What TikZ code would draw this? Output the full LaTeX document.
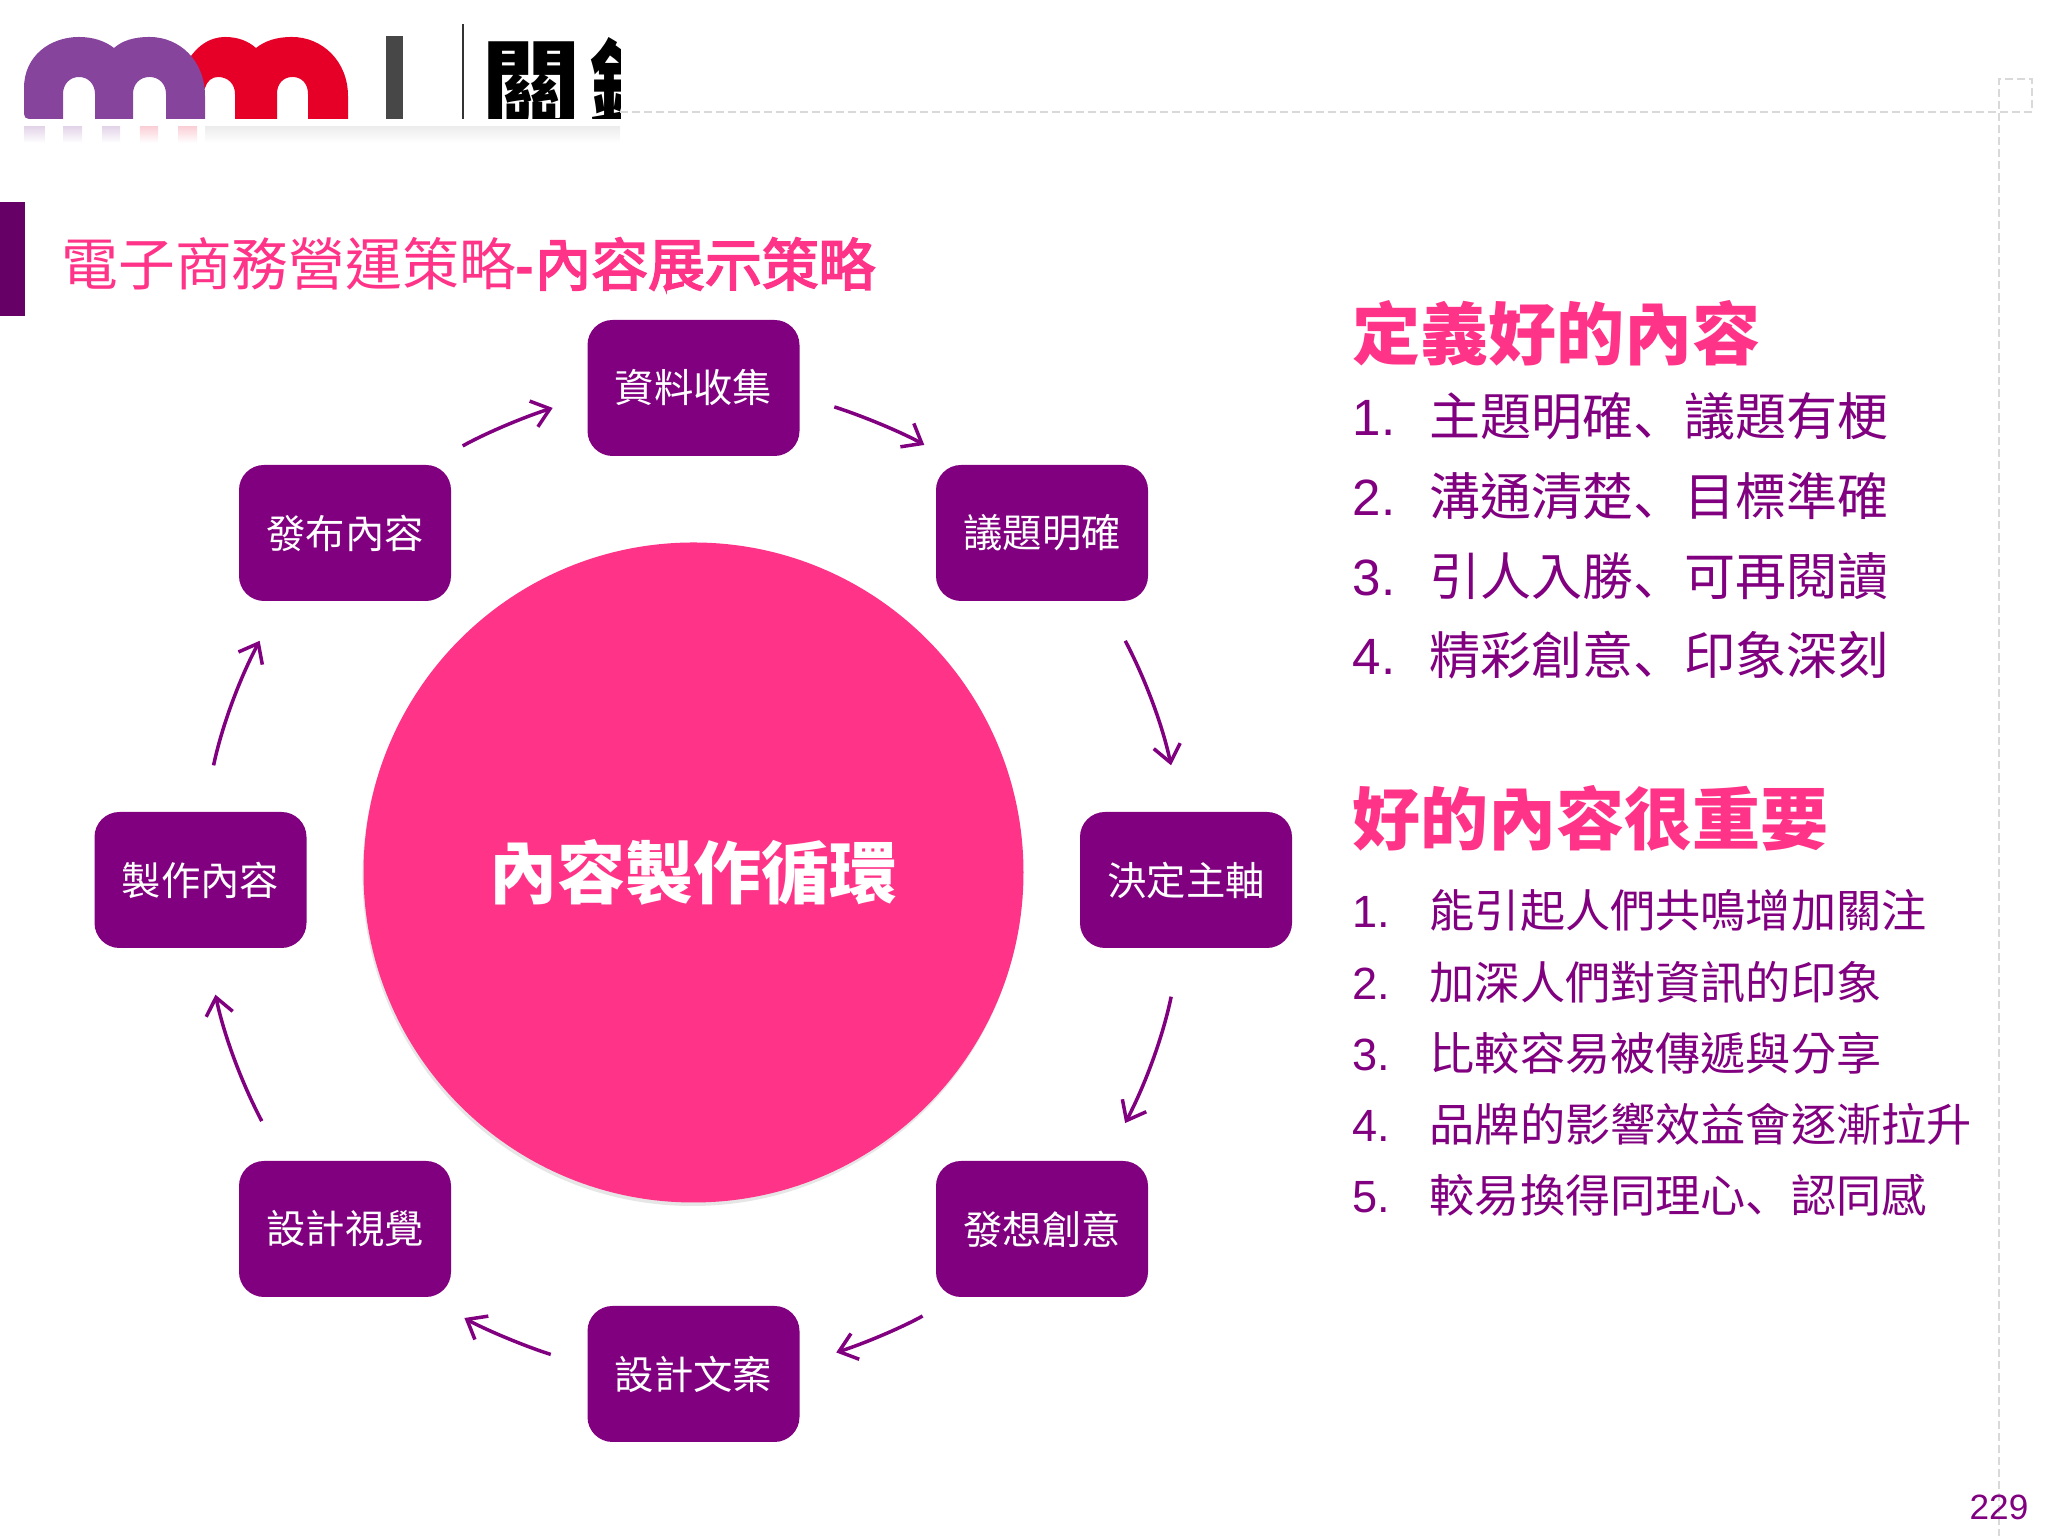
\documentclass[tikz,border=0pt]{standalone}
\usepackage{fontspec}
\setmainfont{Liberation Sans}
\newfontfamily\cjk{Noto Sans CJK TC}
\newfontfamily\cjkmark{Noto Sans CJK SC}
\newfontfamily\cjkfake[FakeBold=3]{Noto Sans CJK TC}
\usetikzlibrary{arrows.meta,shadows}

\definecolor{deeppurple}{HTML}{800080}
\definecolor{hotpink}{HTML}{FF3388}
\definecolor{barpurple}{HTML}{660066}
\definecolor{logopurple}{HTML}{86449C}
\definecolor{logored}{HTML}{E60028}
\definecolor{guidegray}{HTML}{D9D9D9}

\newcommand{\numline}[2]{\makebox[0.77cm][l]{#1}{\cjk #2}}
\newcommand{\dunmark}{{\cjkmark 、}}

\tikzset{
  stepbox/.style={fill=deeppurple, rounded corners=0.25cm, minimum width=2.12cm, minimum height=1.36cm, inner sep=0pt, text=white, font=\fontsize{11.2}{13}\selectfont\cjk},
  cyclearrow/.style={draw=deeppurple, line width=0.035cm, -{Straight Barb[length=0.17cm, width=0.27cm]}},
  headline/.style={anchor=west, inner sep=0pt, text=hotpink, font=\fontsize{19.35}{22}\selectfont\cjk\bfseries},
  bigitem/.style={anchor=west, inner sep=0pt, text=deeppurple, font=\fontsize{14.52}{17}\selectfont},
  smallitem/.style={anchor=west, inner sep=0pt, text=deeppurple, font=\fontsize{12.85}{15}\selectfont},
  guideline/.style={draw=guidegray, line width=0.025cm, dash pattern=on 0.08cm off 0.04cm}
}

\begin{document}
\begin{tikzpicture}
  \useasboundingbox (0, 0) rectangle (20.48, 15.36);

  \fill [logored] (1.85, 14.70) .. controls (1.95, 14.90) and (2.10, 14.99) .. (2.25, 14.99) .. controls (2.38, 14.99) and (2.48, 14.95) .. (2.56, 14.88) .. controls (2.65, 14.95) and (2.76, 14.99) .. (2.92, 14.99) .. controls (3.22, 14.99) and (3.48, 14.75) .. (3.48, 14.40) -- (3.48, 14.17) -- (3.08, 14.17) -- (3.08, 14.42) .. controls (3.08, 14.52) and (3.02, 14.59) .. (2.925, 14.59) .. controls (2.83, 14.59) and (2.77, 14.52) .. (2.77, 14.42) -- (2.77, 14.17) -- (2.35, 14.17) -- (2.35, 14.42) .. controls (2.35, 14.52) and (2.28, 14.59) .. (2.18, 14.59) .. controls (2.12, 14.59) and (2.07, 14.55) .. (2.05, 14.48) -- (1.85, 14.17) -- cycle;
  \fill [logopurple] (0.24, 14.22) -- (0.24, 14.48) .. controls (0.24, 14.80) and (0.50, 14.99) .. (0.79, 14.99) .. controls (0.93, 14.99) and (1.05, 14.95) .. (1.14, 14.88) .. controls (1.22, 14.95) and (1.33, 14.99) .. (1.495, 14.99) .. controls (1.80, 14.99) and (2.05, 14.75) .. (2.05, 14.40) -- (2.05, 14.17) -- (1.66, 14.17) -- (1.66, 14.42) .. controls (1.66, 14.52) and (1.59, 14.59) .. (1.495, 14.59) .. controls (1.40, 14.59) and (1.33, 14.52) .. (1.33, 14.42) -- (1.33, 14.17) -- (0.95, 14.17) -- (0.95, 14.42) .. controls (0.95, 14.52) and (0.88, 14.59) .. (0.79, 14.59) .. controls (0.70, 14.59) and (0.63, 14.52) .. (0.63, 14.42) -- (0.63, 14.17) -- (0.29, 14.17) .. controls (0.26, 14.17) and (0.24, 14.19) .. (0.24, 14.22) -- cycle;

  \fill [black!72] (3.86, 14.17) rectangle (4.03, 15.00);
  \draw [black!80, line width=0.025cm] (4.63, 14.17) -- (4.63, 15.12);
  \begin{scope}
    \clip (4.70, 14.17) rectangle (6.20, 15.20);
    \node [anchor=west, inner sep=0pt, font=\fontsize{28.4}{30}\selectfont\cjk\bfseries] (logotext) at (4.81, 14.50) {關\hspace{0.08cm}鍵};
  \end{scope}

  \shade [top color=logopurple!22, bottom color=white] (0.24, 13.93) rectangle (0.45, 14.09);
  \shade [top color=logopurple!22, bottom color=white] (0.63, 13.93) rectangle (0.82, 14.09);
  \shade [top color=logopurple!22, bottom color=white] (1.02, 13.93) rectangle (1.20, 14.09);
  \shade [top color=logored!18, bottom color=white] (1.40, 13.93) rectangle (1.58, 14.09);
  \shade [top color=logored!18, bottom color=white] (1.78, 13.93) rectangle (1.97, 14.09);
  \shade [top color=black!7, bottom color=white] (2.05, 13.93) rectangle (6.20, 14.09);

  \draw [guideline] (6.20, 14.24) -- (20.32, 14.24) -- (20.32, 14.57) -- (19.99, 14.57) -- (19.99, 0);

  \fill [barpurple] (0, 12.20) rectangle (0.25, 13.34);
  \node [anchor=west, inner sep=0pt, text=hotpink, font=\fontsize{16.15}{19}\selectfont] (title) at (0.61, 12.72) {{\cjk 電子商務營運策略}\textbf{-}{\cjkfake 內容展示策略}};

  \node [circle, fill=hotpink, minimum size=6.6cm, inner sep=0pt, text=white, font=\fontsize{19.35}{22}\selectfont\cjk\bfseries, drop shadow={shadow xshift=-0.3pt, shadow yshift=-1pt, opacity=0.2}] (hub) at (6.935, 6.635) {內容製作循環};

  \node [stepbox] (ziliao) at (6.935, 11.48) {資料收集};
  \node [stepbox] (yiti) at (10.42, 10.03) {議題明確};
  \node [stepbox] (juding) at (11.86, 6.56) {決定主軸};
  \node [stepbox] (faxiang) at (10.42, 3.07) {發想創意};
  \node [stepbox] (wenan) at (6.935, 1.62) {設計文案};
  \node [stepbox] (shijue) at (3.45, 3.07) {設計視覺};
  \node [stepbox] (zhizuo) at (2.005, 6.56) {製作內容};
  \node [stepbox] (fabu) at (3.45, 10.03) {發布內容};

  \draw [cyclearrow, shorten <=0.53cm, shorten >=0.39cm] ([xshift=0.03cm, yshift=-0.08cm]fabu.45) to [bend left=6] ([xshift=0.03cm, yshift=-0.08cm]ziliao.180);
  \draw [cyclearrow, shorten <=0.39cm, shorten >=0.53cm] ([xshift=-0.03cm, yshift=-0.07cm]ziliao.0) to [bend left=6] ([xshift=-0.03cm, yshift=-0.07cm]yiti.135);
  \draw [cyclearrow, shorten <=0.42cm, shorten >=0.49cm] ([xshift=-0.05cm, yshift=-0.02cm]yiti.-45) to [bend left=8] ([xshift=-0.05cm, yshift=-0.02cm]juding.90);
  \draw [cyclearrow, shorten <=0.49cm, shorten >=0.42cm] ([xshift=-0.05cm]juding.-90) to [bend left=8] ([xshift=-0.05cm]faxiang.45);
  \draw [cyclearrow, shorten <=0.55cm, shorten >=0.41cm] ([xshift=-0.03cm, yshift=0.09cm]faxiang.-135) to [bend left=6] ([xshift=-0.03cm, yshift=0.09cm]wenan.0);
  \draw [cyclearrow, shorten <=0.41cm, shorten >=0.55cm] ([xshift=0.03cm, yshift=0.07cm]wenan.180) to [bend left=6] ([xshift=0.03cm, yshift=0.07cm]shijue.-45);
  \draw [cyclearrow, shorten <=0.42cm, shorten >=0.49cm] ([xshift=0.05cm, yshift=0.02cm]shijue.135) to [bend left=8] ([xshift=0.05cm, yshift=0.02cm]zhizuo.-90);
  \draw [cyclearrow, shorten <=0.49cm, shorten >=0.42cm] ([xshift=0.03cm, yshift=-0.02cm]zhizuo.90) to [bend left=8] ([xshift=0.03cm, yshift=-0.02cm]fabu.-135);

  \node [headline] (define) at (13.52, 12.03) {定義好的內容};
  \node [bigitem] (define1) at (13.52, 11.20) {\numline{1.}{主題明確\dunmark 議題有梗}};
  \node [bigitem] (define2) at (13.52, 10.40) {\numline{2.}{溝通清楚\dunmark 目標準確}};
  \node [bigitem] (define3) at (13.52, 9.60) {\numline{3.}{引人入勝\dunmark 可再閱讀}};
  \node [bigitem] (define4) at (13.52, 8.81) {\numline{4.}{精彩創意\dunmark 印象深刻}};

  \node [headline] (matter) at (13.52, 7.18) {好的內容很重要};
  \node [smallitem] (matter1) at (13.52, 6.26) {\numline{1.}{能引起人們共鳴增加關注}};
  \node [smallitem] (matter2) at (13.52, 5.54) {\numline{2.}{加深人們對資訊的印象}};
  \node [smallitem] (matter3) at (13.52, 4.83) {\numline{3.}{比較容易被傳遞與分享}};
  \node [smallitem] (matter4) at (13.52, 4.12) {\numline{4.}{品牌的影響效益會逐漸拉升}};
  \node [smallitem] (matter5) at (13.52, 3.41) {\numline{5.}{較易換得同理心\dunmark 認同感}};

  \node [text=deeppurple, inner sep=0pt, font=\fontsize{10}{12}\selectfont] (pagenum) at (19.99, 0.285) {229};
\end{tikzpicture}
\end{document}
